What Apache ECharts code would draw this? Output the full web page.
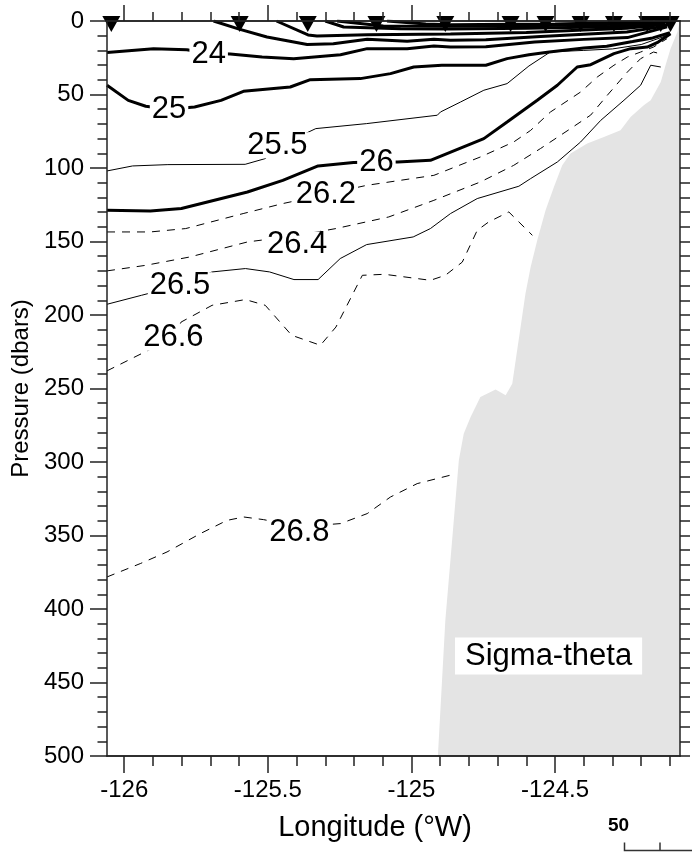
<!DOCTYPE html>
<html>
<head>
<meta charset="utf-8">
<script src="https://cdn.jsdelivr.net/npm/echarts@6/dist/echarts.min.js"></script>
<style>html,body{margin:0;padding:0;background:#fff}#c{width:692px;height:857px}</style>
</head>
<body>
<div id="c"></div>
<script>
// ---------- data ----------
const X_MIN = -126.06, X_MAX = -124.065;
const P_MIN = 0, P_MAX = 500;
const xMajorTicks = [-126, -125.5, -125, -124.5];
const xMinorTicks = [-126, -125.9, -125.8, -125.7, -125.6, -125.5, -125.4, -125.3, -125.2, -125.1,
                     -125, -124.9, -124.8, -124.7, -124.6, -124.5, -124.4, -124.3, -124.2, -124.1];

// CTD stations (longitude), drawn at the surface
const stationLon = [-126.045, -125.598, -125.361, -125.122, -124.882, -124.655, -124.533, -124.411, -124.295, -124.179, -124.132, -124.098];

// bottom profile (longitude, pressure)
const bathyLon = [-124.908, -124.882, -124.857, -124.835, -124.818, -124.794, -124.760, -124.707, -124.672, -124.649, -124.632, -124.620, -124.603, -124.585, -124.562, -124.533, -124.504, -124.475, -124.446, -124.388, -124.330, -124.272, -124.237, -124.191, -124.167, -124.132, -124.115, -124.098, -124.074, -124.066];
const bathyP   = [500, 407.7, 350, 298.8, 280.7, 269.4, 255.8, 250.7, 254.6, 246.7, 224, 208.2, 185.4, 167.3, 149.2, 128.8, 112.9, 98.2, 90.2, 83.4, 78.9, 74.4, 65.3, 57.3, 53.9, 41.5, 30, 18.8, 7.5, 0];

// sigma-theta contours: [longitude, pressure]
const c215 = [[-125.085,0],[-124.95,2],[-124.864,2.5],[-124.65,2.2],[-124.5,2],[-124.3,1.2],[-124.2,0.5]];
const c220 = [[-125.259,0],[-125.098,3.4],[-124.864,3.6],[-124.6,3.2],[-124.4,2.7],[-124.25,2],[-124.15,0.8]];
const c225 = [[-125.30,0],[-125.236,4.1],[-125.038,5.2],[-124.864,5.5],[-124.6,5],[-124.4,4.2],[-124.25,3.5],[-124.14,1.5]];
const c230 = [[-125.47,0],[-125.36,9.5],[-125.329,10.2],[-125.154,9.3],[-124.864,8.8],[-124.6,7.8],[-124.4,6.2],[-124.25,5],[-124.13,2.5]];
const c235 = [[-125.689,0],[-125.60,5.5],[-125.503,10.9],[-125.363,16],[-125.272,15.4],[-125.154,12.4],[-125.015,13.8],[-124.922,12.4],[-124.864,13.1],[-124.741,12.7],[-124.55,10.5],[-124.4,9],[-124.25,7.5],[-124.15,4.5],[-124.1,2]];
const c240 = [[-126.06,21.5],[-125.898,18.8],[-125.782,19.5],[-125.706,22],[-125.631,22.5],[-125.52,24.5],[-125.41,25.6],[-125.247,22.9],[-125.154,18.8],[-125.015,18.8],[-124.922,17],[-124.864,17.7],[-124.741,17.5],[-124.571,14.3],[-124.4,12.5],[-124.248,11.3],[-124.11,4]];
const c250 = [[-126.06,43.7],[-125.986,54],[-125.925,58],[-125.844,60],[-125.755,58.5],[-125.663,54],[-125.585,47.8],[-125.422,44.9],[-125.352,39.9],[-125.178,39.2],[-125.073,35.8],[-124.992,31.3],[-124.894,30.1],[-124.741,30.1],[-124.667,25.6],[-124.591,22.9],[-124.52,21.1],[-124.4,18.3],[-124.32,17.2],[-124.23,14],[-124.16,11.5],[-124.1,8]];
const c255 = [[-126.06,102],[-125.971,98.6],[-125.848,97.7],[-125.579,97.5],[-125.509,93.6],[-125.45,84],[-125.333,73.2],[-125.156,69.8],[-124.91,64.1],[-124.899,61.9],[-124.829,55.1],[-124.748,47.1],[-124.667,42.6],[-124.591,30.6],[-124.516,21],[-124.4,20],[-124.3,19],[-124.2,16],[-124.098,9]];
const c260 = [[-126.06,128.8],[-125.909,129.2],[-125.801,127.6],[-125.571,116.3],[-125.448,108.4],[-125.325,98.6],[-125.202,96.3],[-125.122,96],[-125.048,95.9],[-124.934,94.8],[-124.748,80],[-124.667,68.7],[-124.562,53.9],[-124.492,43.7],[-124.423,31.3],[-124.376,29.7],[-124.295,22.2],[-124.237,18.8],[-124.179,17.7],[-124.141,14.3],[-124.098,8.6]];
const c262 = [[-126.06,143.5],[-125.909,143.5],[-125.786,141.2],[-125.586,131],[-125.448,124.2],[-125.298,117.9],[-125.156,111.8],[-124.922,105],[-124.76,92.5],[-124.644,82.3],[-124.585,74.4],[-124.516,61.9],[-124.411,48.3],[-124.353,38.1],[-124.295,30.1],[-124.248,24.5],[-124.202,21.1],[-124.157,17.7],[-124.11,12]];
const c264 = [[-126.06,170],[-125.925,166.2],[-125.771,160.5],[-125.571,150.3],[-125.40,146],[-125.263,141.2],[-125.079,133.3],[-124.922,122],[-124.76,109.5],[-124.644,98.2],[-124.551,86.8],[-124.446,73.2],[-124.376,64],[-124.318,50.5],[-124.248,34.7],[-124.202,25.6],[-124.157,21.1],[-124.13,22.5]];
const c265 = [[-126.06,192.7],[-125.94,186.6],[-125.806,179.8],[-125.694,170.7],[-125.578,168.4],[-125.494,170.7],[-125.409,175.9],[-125.325,175.9],[-125.248,161.6],[-125.156,152.1],[-124.994,146.9],[-124.934,141.2],[-124.864,131],[-124.771,120.8],[-124.626,112.4],[-124.585,107.2],[-124.492,95.9],[-124.411,82.3],[-124.341,67.6],[-124.26,53.9],[-124.202,43.7],[-124.167,30.1],[-124.132,31.3]];
const c266 = [[-126.06,238],[-125.94,226.3],[-125.829,215.5],[-125.802,204.8],[-125.694,193.4],[-125.578,189.5],[-125.509,193.4],[-125.417,213.8],[-125.317,220.6],[-125.263,208.2],[-125.171,173],[-125.094,172.3],[-124.934,176.4],[-124.882,173],[-124.823,164],[-124.771,142.4],[-124.731,136.7],[-124.661,129.9],[-124.579,145.8]];
const c268 = [[-126.06,378.2],[-125.944,369.1],[-125.851,361.2],[-125.735,348.7],[-125.642,339.7],[-125.584,337.4],[-125.515,339.2],[-125.39,344],[-125.247,341.9],[-125.154,335.1],[-125.073,323.8],[-124.98,314.7],[-124.853,308.4]];

// contour labels
const labelText = ['24', '25', '25.5', '26', '26.2', '26.4', '26.5', '26.6', '26.8'];
const labelLon  = [-125.706, -125.844, -125.467, -125.122, -125.298, -125.398, -125.806, -125.829, -125.390];
const labelP    = [22.5, 60.2, 84.6, 96.1, 117.9, 152, 179.8, 215.5, 347.8];

// ---------- chart ----------
const FONT = '"Liberation Sans", Arial, Helvetica, sans-serif';
const AX = {color: '#222', width: 1.5};

const THICK = {color: '#000', width: 3, type: 'solid'};
const THIN = {color: '#000', width: 1, type: 'solid'};
const DASH = {color: '#000', width: 1, type: [8, 7]};

const contourList = [
  [c215, THICK], [c220, THICK], [c225, THICK], [c230, THICK], [c235, THICK],
  [c240, THICK], [c250, THICK], [c255, THIN], [c260, THICK],
  [c262, DASH], [c264, DASH], [c265, THIN], [c266, DASH], [c268, DASH]
];

function xAxisDef(pos, ticks, len, showLabel, extra) {
  return Object.assign({
    type: 'value', position: pos, min: X_MIN, max: X_MAX, gridIndex: 0, z: 10,
    axisLine: {show: true, onZero: false, lineStyle: AX},
    axisTick: {show: true, inside: false, length: len, customValues: ticks, lineStyle: AX},
    axisLabel: {show: showLabel, customValues: ticks, margin: 22, fontFamily: FONT, fontSize: 24, color: '#000'},
    splitLine: {show: false}
  }, extra || {});
}

const series = [];
series.push({
  type: 'custom', z: 1, silent: true, clip: true,
  data: [[X_MAX, P_MIN]],
  renderItem: function (params, api) {
    const pts = bathyLon.map((lon, i) => api.coord([lon, bathyP[i]]));
    pts.push(api.coord([X_MAX, P_MIN]));
    pts.push(api.coord([X_MAX, P_MAX]));
    return {type: 'polygon', shape: {points: pts}, style: {fill: '#e4e4e4', stroke: null}};
  }
});
contourList.forEach(function (c) {
  series.push({
    type: 'line', data: c[0], symbol: 'none', showSymbol: false, smooth: false,
    lineStyle: c[1], z: 3, silent: true, clip: true, xAxisIndex: 0, yAxisIndex: 0
  });
});
series.push({
  type: 'scatter', z: 5, silent: true, symbolSize: 1, itemStyle: {color: 'rgba(0,0,0,0)', opacity: 1},
  data: labelText.map((t, i) => ({name: t, value: [labelLon[i], labelP[i]]})),
  label: {show: true, position: 'inside', formatter: '{b}', fontFamily: FONT, fontSize: 31, opacity: 1,
          color: '#000', textBorderWidth: 0, backgroundColor: '#fff', padding: [0, 2], lineHeight: 26}
});
series.push({
  type: 'scatter', z: 6, silent: true, clip: false,
  symbol: 'triangle', symbolRotate: 180, symbolSize: [18, 16],
  itemStyle: {color: '#000', opacity: 1},
  data: stationLon.map(lon => [lon, 2])
});

const option = {
  animation: false,
  backgroundColor: '#fff',
  grid: {left: 107, top: 21, width: 573, height: 735, containLabel: false},
  title: {
    text: 'Sigma-theta', left: 455, top: 638, backgroundColor: '#fff', padding: [3, 10, 3, 10],
    textStyle: {fontFamily: FONT, fontSize: 31, fontWeight: 'normal', color: '#000', lineHeight: 30}
  },
  xAxis: [
    xAxisDef('bottom', xMajorTicks, 17, true, {
      name: 'Longitude (°W)', nameLocation: 'middle', nameGap: 57,
      nameTextStyle: {fontFamily: FONT, fontSize: 29, color: '#000', padding: [0, 37, 0, 0]}
    }),
    xAxisDef('bottom', xMinorTicks, 10, false),
    xAxisDef('top', xMajorTicks, 16, false),
    xAxisDef('top', xMinorTicks, 9, false)
  ],
  yAxis: [
    {
      type: 'value', position: 'left', min: P_MIN, max: P_MAX, interval: 50, inverse: true, z: 10,
      axisLine: {show: true, onZero: false, lineStyle: AX},
      axisTick: {show: true, inside: false, length: 17, lineStyle: AX},
      minorTick: {show: true, splitNumber: 5, length: 9.5, lineStyle: AX},
      axisLabel: {show: true, margin: 23, fontFamily: FONT, fontSize: 24, color: '#000'},
      splitLine: {show: false},
      name: 'Pressure (dbars)', nameLocation: 'middle', nameGap: 73,
      nameTextStyle: {fontFamily: FONT, fontSize: 24, color: '#000'}
    },
    {
      type: 'value', position: 'right', min: P_MIN, max: P_MAX, interval: 10, inverse: true, z: 10,
      axisLine: {show: true, onZero: false, lineStyle: AX},
      axisTick: {show: true, inside: false, length: 10, lineStyle: AX},
      axisLabel: {show: false},
      splitLine: {show: false}
    }
  ],
  graphic: [
    {type: 'text', left: 608, top: 816, style: {text: '50', font: 'bold 19px ' + FONT, fill: '#000'}},
    {type: 'polyline', shape: {points: [[624.5, 842.5], [624.5, 850.5], [692, 850.5]]}, style: {stroke: '#333', lineWidth: 1.5, fill: null}},
    {type: 'line', shape: {x1: 660, y1: 842.5, x2: 660, y2: 850.5}, style: {stroke: '#333', lineWidth: 1.5}}
  ],
  series: series
};

const chart = echarts.init(document.getElementById('c'));
chart.setOption(option);
</script>
</body>
</html>
